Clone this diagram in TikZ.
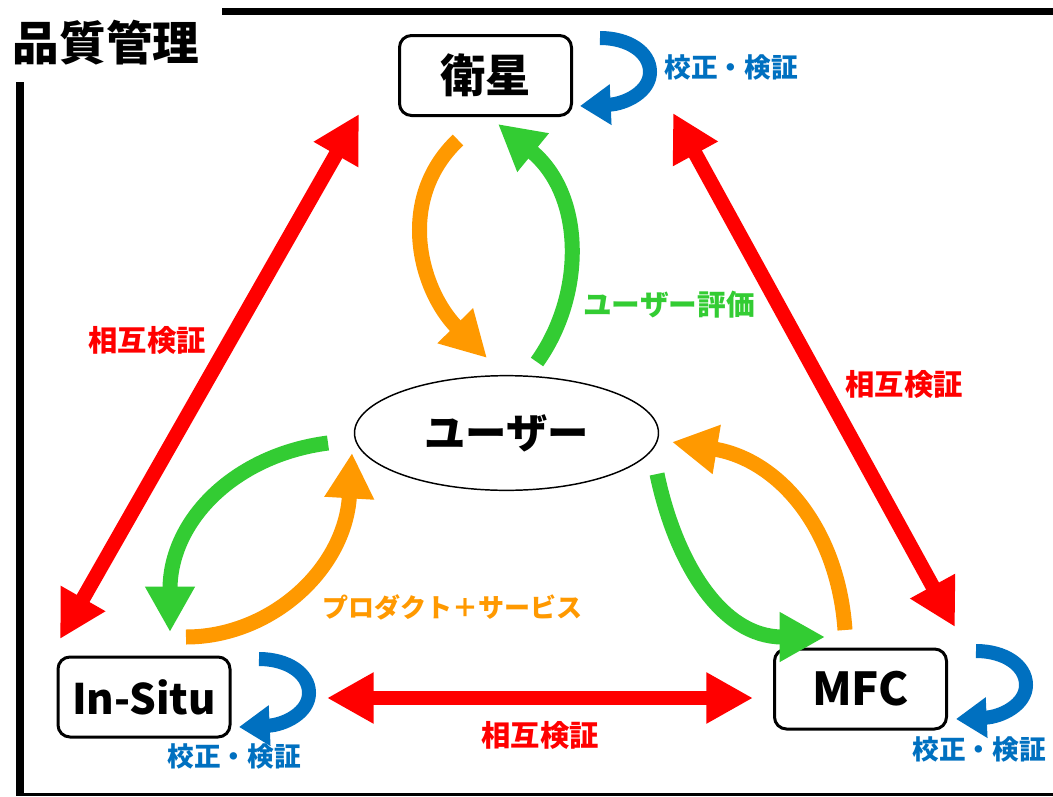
\documentclass[tikz,border=0pt]{standalone}
\usepackage{fontspec}
\setmainfont{Noto Sans CJK JP}
\usetikzlibrary{arrows.meta,shapes.geometric}
\definecolor{cRed}{RGB}{255,0,0}
\definecolor{cGreen}{RGB}{51,204,51}
\definecolor{cOrange}{RGB}{255,153,0}
\definecolor{cBlue}{RGB}{0,112,192}
\tikzset{
  box/.style={draw, line width=2.25pt, rounded corners=9pt, fill=white,
    minimum width=129pt, minimum height=60pt, inner sep=0pt,
    font=\bfseries\fontsize{34pt}{34pt}\selectfont},
  userell/.style={draw, ellipse, line width=1.1pt, fill=white,
    minimum width=228pt, minimum height=86pt, inner sep=0pt,
    font=\bfseries\fontsize{31pt}{31pt}\selectfont},
  redarr/.style={draw=cRed, line width=11pt,
    {Triangle[length=35pt,width=36pt]}-{Triangle[length=35pt,width=36pt]}},
  greenarr/.style={draw=cGreen, line width=11.25pt, -{Triangle[length=34pt,width=35pt]}},
  orangearr/.style={draw=cOrange, line width=11.25pt, -{Triangle[length=34pt,width=35pt]}},
  bluearr/.style={draw=cBlue, line width=10.5pt, -{Triangle[length=23pt,width=29pt]}},
  lbl/.style={inner sep=0pt, font=\bfseries\fontsize{#1}{#1}\selectfont},
  lblue/.style={lbl=20pt, text=cBlue},
  lred/.style={lbl=22pt, text=cRed},
  lgreen/.style={lbl=21.5pt, text=cGreen},
  lorange/.style={lbl=19.5pt, text=cOrange},
  selfloop/.pic={
    \draw[bluearr] (0,0) .. controls (28,0) and (50,14) .. (50,34)
      .. controls (50,54) and (25,66) .. (-20,68);
  }
}
\begin{document}
\begin{tikzpicture}[x=0.75pt,y=-0.75pt]
\useasboundingbox (0,0) rectangle (1053,796);
\fill[white] (0,0) rectangle (1053,796);

% frame
\draw[line width=5.25pt] (222,11.5) -- (1053,11.5);
\draw[line width=6pt] (19.5,82) -- (19.5,796);
\draw[line width=2pt] (18,794.5) -- (1053,794.5);

% title
\node[lbl=35pt] (title) at (106,43) {品質管理};

% nodes
\node[box] (sat) at (485.5,75.5) {衛星};
\node[box, font=\bfseries\fontsize{31.5pt}{31.5pt}\selectfont] (insitu) at (144,697) {In-Situ};
\node[box] (mfc) at (860.5,689) {MFC};
\node[userell] (user) at (506.5,433) {ユーザー};

% endpoints
\coordinate (rL1) at (359,114);
\coordinate (rL2) at (60,639);
\coordinate (rR1) at (673,113);
\coordinate (rR2) at (955,627);
\coordinate (rB1) at (327,698);
\coordinate (rB2) at (753,698);

\coordinate (oT1) at (458,140);
\coordinate (oT2) at (487,358);
\coordinate (gT1) at (537,362);
\coordinate (gT2) at (498,124);

\coordinate (gL1) at (328,443);
\coordinate (gL2) at (170,632);
\coordinate (oL1) at (186,637);
\coordinate (oL2) at (352,453);

\coordinate (gR1) at (657,474);
\coordinate (gR2) at (825,637);
\coordinate (oR1) at (845,630);
\coordinate (oR2) at (672,442);

% red mutual verification arrows
\draw[redarr] (rL2) -- (rL1);
\draw[redarr] (rR1) -- (rR2);
\draw[redarr] (rB1) -- (rB2);

% satellite <-> user
\draw[orangearr] (oT1) .. controls (395,200) and (420,290) .. (oT2);
\draw[greenarr] (gT1) .. controls (585,295) and (585,195) .. (gT2);

% user <-> in-situ
\draw[greenarr] (gL1) .. controls (235,455) and (170,520) .. (gL2);
\draw[orangearr] (oL1) .. controls (270,637) and (345,570) .. (oL2);

% user <-> MFC
\draw[greenarr] (gR1) .. controls (675,560) and (720,637) .. (gR2);
\draw[orangearr] (oR1) .. controls (838,530) and (780,460) .. (oR2);

% self loops
\pic at (600,38) {selfloop};
\pic at (259,659) {selfloop};
\pic at (976,651) {selfloop};

% labels
\node[lblue] (cv1) at (731,67) {校正・検証};
\node[lblue] (cv2) at (234,756) {校正・検証};
\node[lblue] (cv3) at (979,749) {校正・検証};
\node[lred] (mv1) at (147,340) {相互検証};
\node[lred] (mv2) at (904,384) {相互検証};
\node[lred] (mv3) at (540,735) {相互検証};
\node[lgreen] (ue) at (669,305) {ユーザー評価};
\node[lorange] (ps) at (452,607) {プロダクト＋サービス};
\end{tikzpicture}
\end{document}
